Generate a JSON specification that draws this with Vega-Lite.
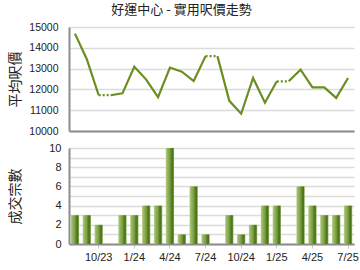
{
  "$schema": "https://vega.github.io/schema/vega-lite/v6.json",
  "padding": {"left": 8, "top": 4, "right": 5, "bottom": 5},
  "background": "white",
  "config": {
    "view": {"stroke": null},
    "font": "Liberation Sans",
    "axis": {
      "labelFont": "Liberation Sans",
      "labelColor": "#222222",
      "titleFont": "Noto Sans CJK TC",
      "titleFontWeight": "normal",
      "titleColor": "#222222",
      "gridColor": "#dcdcdc",
      "gridWidth": 1.5,
      "domainColor": "#8c8c8c",
      "domainWidth": 2
    }
  },
  "data": {
    "values": [
      {"m": "8/23", "price": 14680, "count": 3, "seg": "A", "gap": null},
      {"m": "9/23", "price": 13450, "count": 3, "seg": "A", "gap": null},
      {"m": "10/23", "price": 11720, "count": 2, "seg": "A", "gap": "1"},
      {"m": "11/23", "price": 11720, "count": 0, "seg": "B", "gap": "1"},
      {"m": "12/23", "price": 11810, "count": 3, "seg": "B", "gap": null},
      {"m": "1/24", "price": 13090, "count": 3, "seg": "B", "gap": null},
      {"m": "2/24", "price": 12470, "count": 4, "seg": "B", "gap": null},
      {"m": "3/24", "price": 11630, "count": 4, "seg": "B", "gap": null},
      {"m": "4/24", "price": 13050, "count": 10, "seg": "B", "gap": null},
      {"m": "5/24", "price": 12850, "count": 1, "seg": "B", "gap": null},
      {"m": "6/24", "price": 12400, "count": 6, "seg": "B", "gap": null},
      {"m": "7/24", "price": 13600, "count": 1, "seg": "B", "gap": "2"},
      {"m": "8/24", "price": 13600, "count": 0, "seg": "C", "gap": "2"},
      {"m": "9/24", "price": 11450, "count": 3, "seg": "C", "gap": null},
      {"m": "10/24", "price": 10830, "count": 1, "seg": "C", "gap": null},
      {"m": "11/24", "price": 12550, "count": 2, "seg": "C", "gap": null},
      {"m": "12/24", "price": 11360, "count": 4, "seg": "C", "gap": null},
      {"m": "1/25", "price": 12390, "count": 4, "seg": "C", "gap": "3"},
      {"m": "2/25", "price": 12390, "count": 0, "seg": "D", "gap": "3"},
      {"m": "3/25", "price": 12950, "count": 6, "seg": "D", "gap": null},
      {"m": "4/25", "price": 12100, "count": 4, "seg": "D", "gap": null},
      {"m": "5/25", "price": 12100, "count": 3, "seg": "D", "gap": null},
      {"m": "6/25", "price": 11590, "count": 3, "seg": "D", "gap": null},
      {"m": "7/25", "price": 12550, "count": 4, "seg": "D", "gap": null}
    ]
  },
  "vconcat": [
    {
      "width": 285,
      "height": 104,
      "title": {
        "text": "好運中心 - 實用呎價走勢",
        "font": "Noto Sans CJK TC",
        "fontSize": 13,
        "fontWeight": "normal",
        "color": "#222222",
        "anchor": "middle",
        "frame": "group",
        "dx": -30,
        "offset": 5
      },
      "encoding": {
        "x": {
          "field": "m",
          "type": "ordinal",
          "scale": {
            "type": "band",
            "domain": ["8/23","9/23","10/23","11/23","12/23","1/24","2/24","3/24","4/24","5/24","6/24","7/24","8/24","9/24","10/24","11/24","12/24","1/25","2/25","3/25","4/25","5/25","6/25","7/25"],
            "paddingInner": 0.3,
            "paddingOuter": 0.15
          },
          "axis": {
            "title": null,
            "labels": false,
            "ticks": false,
            "bandPosition": 0.5,
            "values": ["10/23","1/24","4/24","7/24","10/24","1/25","4/25","7/25"]
          }
        },
        "y": {
          "field": "price",
          "type": "quantitative",
          "scale": {"domain": [10000, 15000], "nice": false, "zero": false},
          "axis": {
            "title": "平均呎價",
            "titleFontSize": 14,
            "titleX": -54,
            "titleY": 52,
            "titleBaseline": "middle",
            "titleAngle": 270,
            "values": [10000, 11000, 12000, 13000, 14000, 15000],
            "format": "d",
            "ticks": false,
            "labelPadding": 11,
            "labelFontSize": 10.5
          }
        }
      },
      "layer": [
        {
          "mark": {"type": "line", "color": "#6b8e23", "strokeWidth": 2.2},
          "encoding": {"detail": {"field": "seg"}}
        },
        {
          "transform": [{"filter": "datum.gap != null"}],
          "mark": {"type": "line", "color": "#6b8e23", "strokeWidth": 2.2, "strokeDash": [2, 2]},
          "encoding": {"detail": {"field": "gap"}}
        }
      ]
    },
    {
      "width": 285,
      "height": 96,
      "mark": {
        "type": "bar",
        "color": {
          "gradient": "linear",
          "x1": 0, "x2": 1, "y1": 0, "y2": 0,
          "stops": [
            {"offset": 0, "color": "#bcd294"},
            {"offset": 0.15, "color": "#9dbb68"},
            {"offset": 0.5, "color": "#7a9e42"},
            {"offset": 0.7, "color": "#527c1e"},
            {"offset": 0.85, "color": "#4c7519"},
            {"offset": 1, "color": "#98b668"}
          ]
        }
      },
      "encoding": {
        "x": {
          "field": "m",
          "type": "ordinal",
          "scale": {
            "type": "band",
            "domain": ["8/23","9/23","10/23","11/23","12/23","1/24","2/24","3/24","4/24","5/24","6/24","7/24","8/24","9/24","10/24","11/24","12/24","1/25","2/25","3/25","4/25","5/25","6/25","7/25"],
            "paddingInner": 0.3,
            "paddingOuter": 0.15
          },
          "axis": {
            "title": null,
            "labelAngle": 0,
            "labelFontSize": 11,
            "tickColor": "#c8c8c8",
            "tickSize": 4,
            "labelPadding": 3,
            "bandPosition": 0.5,
            "values": ["10/23","1/24","4/24","7/24","10/24","1/25","4/25","7/25"]
          }
        },
        "y": {
          "field": "count",
          "type": "quantitative",
          "scale": {"domain": [0, 10], "nice": false},
          "axis": {
            "title": "成交宗數",
            "titleFontSize": 14,
            "titleX": -54,
            "titleY": 48,
            "titleBaseline": "middle",
            "titleAngle": 270,
            "values": [0, 1, 2, 3, 4, 5, 6, 7, 8, 9, 10],
            "ticks": false,
            "labelPadding": 8,
            "labelFontSize": 11
          }
        }
      }
    }
  ],
  "spacing": 17,
  "bounds": "flush"
}
